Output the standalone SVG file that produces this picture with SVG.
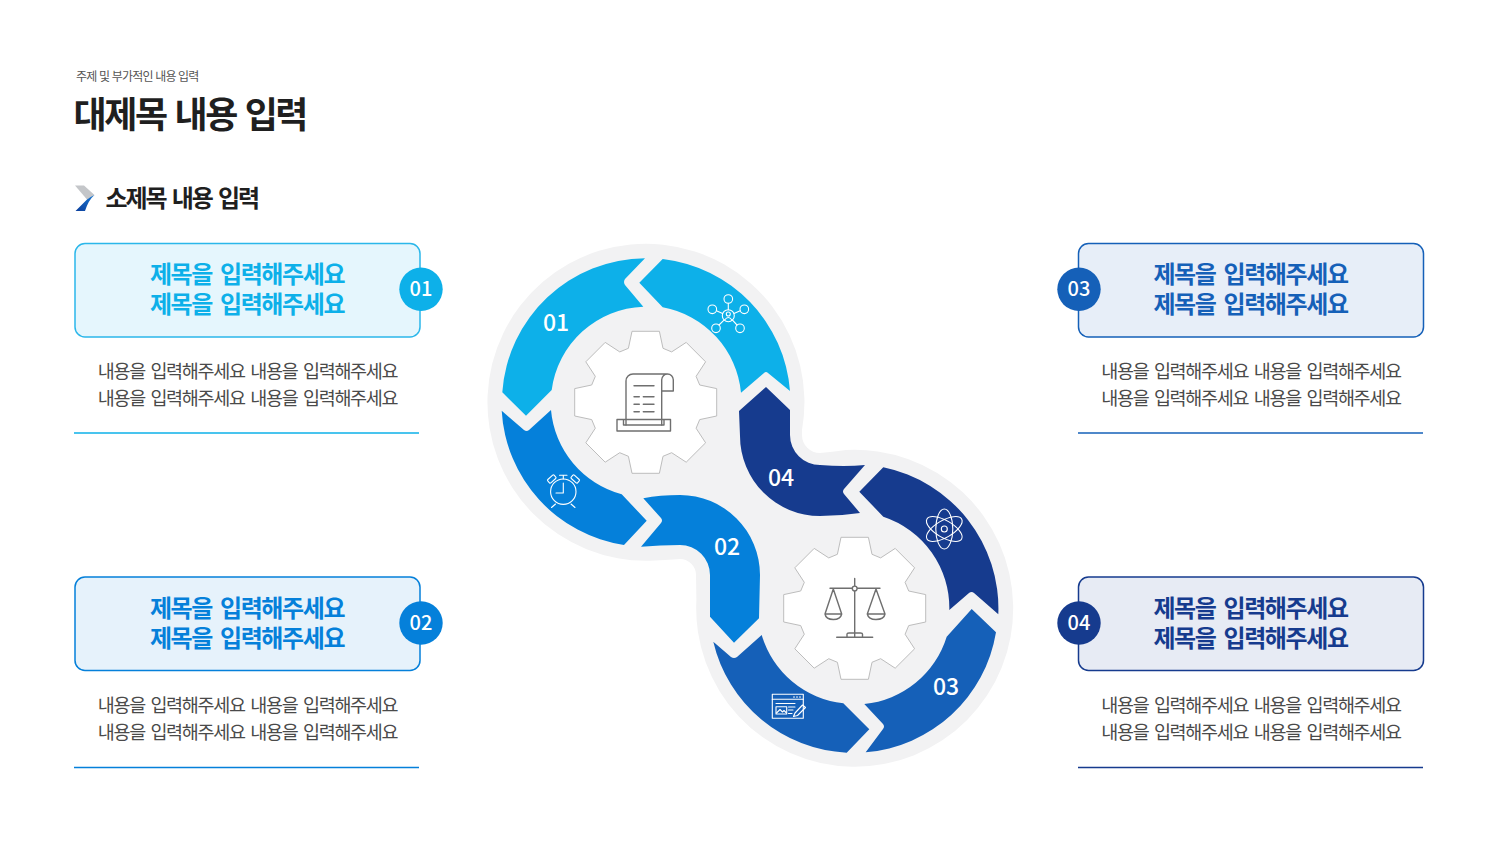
<svg xmlns="http://www.w3.org/2000/svg" width="1500" height="844" viewBox="0 0 1500 844">
<style>
text{font-family:"Noto Sans CJK KR","Noto Sans",sans-serif}
.title{font-size:36px;font-weight:700;fill:#1f1f1f;letter-spacing:-2.4px;word-spacing:3px}
.sub{font-size:12px;fill:#555;letter-spacing:-.8px;word-spacing:.6px}
.sect{font-size:24px;font-weight:700;fill:#1f1f1f;letter-spacing:-2.1px;word-spacing:3px}
.head{font-size:24px;font-weight:700;text-anchor:middle;letter-spacing:-1.4px;word-spacing:4px}
.body{font-size:18.5px;font-weight:400;fill:#4a4a4a;text-anchor:middle;letter-spacing:-1.3px;word-spacing:2.7px}
.num{font-size:20px;font-weight:500;fill:#fff;text-anchor:middle}
.rnum{font-size:23px;font-weight:500;fill:#fff;text-anchor:middle}
.gear{fill:#fff;stroke:#bdbdbd;stroke-width:1;stroke-linejoin:round}
.dk{fill:none;stroke:#6f6f6f;stroke-width:1.4;stroke-linecap:round;stroke-linejoin:round}
.wh{fill:none;stroke:#fff;stroke-width:1.1;stroke-linecap:round;stroke-linejoin:round}
.c1{fill:#0db0e9}.c2{fill:#0580da}.c3{fill:#1560b8}.c4{fill:#163b8e}
</style>
<defs>
<path id="gearShape" class="gear" d="M-17.3-54L-13.7-71H13.7L17.3-54L25.95-50.4L40.5-59.9L59.9-40.5L50.4-25.95L54-17.3L71-13.7V13.7L54 17.3L50.4 25.95L59.9 40.5L40.5 59.9L25.95 50.4L17.3 54L13.7 71H-13.7L-17.3 54L-25.95 50.4L-40.5 59.9L-59.9 40.5L-50.4 25.95L-54 17.3L-71 13.7V-13.7L-54-17.3L-50.4-25.95L-59.9-40.5L-40.5-59.9L-25.95-50.4Z"/>
<linearGradient id="chevBlue" x1="0" y1="1" x2="1" y2="0"><stop offset="0" stop-color="#0b3f9c"/><stop offset="1" stop-color="#1a78d2"/></linearGradient>
</defs>

<g id="header">
<text class="sub" x="76" y="81">주제 및 부가적인 내용 입력</text>
<text class="title" x="73.5" y="128">대제목 내용 입력</text>
</g>
<g id="section-title">
<path d="M75 185.5H84L94.5 195L87 199.5Z" fill="#c4c6c9"/>
<path d="M94.5 195Q88.5 200 85 211H75.5L87 199.5Q90 197 94.5 195Z" fill="url(#chevBlue)"/>
<text class="sect" x="105.5" y="207">소제목 내용 입력</text>
</g>

<g id="card-01">
<rect x="75" y="243.5" width="345" height="93.5" rx="10" fill="#e5f6fd" stroke="#2bb7ea" stroke-width="1.5"/>
<text class="head c1" x="247" y="283">제목을 입력해주세요</text>
<text class="head c1" x="247" y="313">제목을 입력해주세요</text>
<circle class="c1" cx="421" cy="289.3" r="21.7"/>
<text class="num" x="421" y="296">01</text>
<text class="body" x="247.5" y="378">내용을 입력해주세요 내용을 입력해주세요</text>
<text class="body" x="247.5" y="405">내용을 입력해주세요 내용을 입력해주세요</text>
<path d="M74 433H419" stroke="#0db0e9" stroke-width="1.5"/>
</g>
<g id="card-02">
<rect x="75" y="577" width="345" height="93.5" rx="10" fill="#e6f2fb" stroke="#0580da" stroke-width="1.5"/>
<text class="head c2" x="247" y="616.5">제목을 입력해주세요</text>
<text class="head c2" x="247" y="646.5">제목을 입력해주세요</text>
<circle class="c2" cx="421" cy="623" r="21.7"/>
<text class="num" x="421" y="630">02</text>
<text class="body" x="247.5" y="712">내용을 입력해주세요 내용을 입력해주세요</text>
<text class="body" x="247.5" y="739">내용을 입력해주세요 내용을 입력해주세요</text>
<path d="M74 767.5H419" stroke="#0580da" stroke-width="1.5"/>
</g>
<g id="card-03">
<rect x="1078.5" y="243.5" width="345" height="93.5" rx="10" fill="#e7eef8" stroke="#1560b8" stroke-width="1.5"/>
<text class="head c3" x="1250.5" y="283">제목을 입력해주세요</text>
<text class="head c3" x="1250.5" y="313">제목을 입력해주세요</text>
<circle class="c3" cx="1079" cy="289.3" r="21.7"/>
<text class="num" x="1079" y="296">03</text>
<text class="body" x="1251" y="378">내용을 입력해주세요 내용을 입력해주세요</text>
<text class="body" x="1251" y="405">내용을 입력해주세요 내용을 입력해주세요</text>
<path d="M1078 433H1423" stroke="#1560b8" stroke-width="1.5"/>
</g>
<g id="card-04">
<rect x="1078.5" y="577" width="345" height="93.5" rx="10" fill="#e7ebf4" stroke="#163b8e" stroke-width="1.5"/>
<text class="head c4" x="1250.5" y="616.5">제목을 입력해주세요</text>
<text class="head c4" x="1250.5" y="646.5">제목을 입력해주세요</text>
<circle class="c4" cx="1079" cy="623" r="21.7"/>
<text class="num" x="1079" y="630">04</text>
<text class="body" x="1251" y="712">내용을 입력해주세요 내용을 입력해주세요</text>
<text class="body" x="1251" y="739">내용을 입력해주세요 내용을 입력해주세요</text>
<path d="M1078 767.5H1423" stroke="#163b8e" stroke-width="1.5"/>
</g>

<g id="backdrop">
<path fill="#f2f2f3" d="M802 430V435A18 18 0 0 0 820 453Q832 452 846 450A158.5 158.5 0 1 1 696.4 600L696 575A16 16 0 0 0 680 559Q665 560 650 560.7A158.5 158.5 0 1 1 802 430Z"/>
</g>

<g id="ring-01">
<path class="c1" d="M645 258.3L625 279Q623 282 625 285L643.3 306.7A96 96 0 0 0 551.7 390L526 415.7L502.3 392.3A144 144 0 0 1 645 258.3Z"/>
<path class="c1" d="M662.7 259L639.3 282.7L662.7 307.3A96 96 0 0 1 741 392.7L764 373Q766 371 768 373L790 391A144 144 0 0 0 662.7 259Z"/>
<text class="rnum" x="556" y="331">01</text>
<g id="icon-network" class="wh">
<circle cx="728.3" cy="315.7" r="6"/><circle cx="728.3" cy="314" r="2"/><path d="M724.6 320Q728.3 315 732 320"/>
<circle cx="728.3" cy="299" r="4.3"/><circle cx="744.3" cy="309.3" r="4.3"/><circle cx="740" cy="328.3" r="4.3"/><circle cx="716" cy="328.3" r="4.3"/><circle cx="712.3" cy="309.3" r="4.3"/>
<path d="M728.3 303.3V309.7M740.2 310.8L734 313.5M737 325L732.5 320.2M719 325L724 320.2M716.4 310.8L722.6 313.5"/>
</g>
</g>
<g id="ring-02">
<path class="c2" d="M501.7 410.7L524 430Q526.7 432 529 430L551 410A96 96 0 0 0 621.7 494.3L646.7 520.7L624 545A144 144 0 0 1 501.7 410.7Z"/>
<path class="c2" d="M643.3 498.3L661 518Q663 520.5 661 523L641 546.7Q660 545 680 545A30 30 0 0 1 710 575V616.7L734 642.7L759 618.3L760 575A80 80 0 0 0 680 495Q660 495 643.3 498.3Z"/>
<text class="rnum" x="727" y="555">02</text>
<g id="icon-alarm" class="wh">
<circle cx="563.3" cy="491.7" r="12.7"/>
<path d="M563.3 483V493H556M563.3 479V475.7M559.5 475.2H567M555.5 504L551.5 507.5M571 504L575 507.5"/>
<rect x="547.5" y="476.8" width="8.5" height="4.5" rx="1" transform="rotate(-42 551.7 479)"/>
<rect x="571" y="476.8" width="8.5" height="4.5" rx="1" transform="rotate(42 575.3 479)"/>
</g>
</g>
<g id="ring-03">
<path class="c3" d="M713.3 641.7L731 657Q734 659 737 657L761.7 635A96 96 0 0 0 843.3 703.3L869.3 729.3L846.7 752.7A144 144 0 0 1 713.3 641.7Z"/>
<path class="c3" d="M971.7 609L996 632.3A144 144 0 0 1 865.7 752.3L883 729Q885 726.7 883 724L864.3 704A96 96 0 0 0 946.7 636.7Z"/>
<text class="rnum" x="946" y="695">03</text>
<g id="icon-editor" class="wh">
<rect x="772.3" y="694.3" width="31" height="24"/>
<path d="M772.3 699.3H803.3M793.5 697H794.5M796.5 697H797.5M799.5 697H800.5M776 703.5H795M788.5 707H795M788.5 710H793M788.5 713.5H792M793.5 716.5L795 713L802.5 705L805.5 707.5L797.5 715.5Z"/>
<rect x="776" y="706.7" width="10.7" height="7.3"/><path d="M776.5 713L780 709.5L782.5 712L784 710.5L786 712.5"/>
</g>
</g>
<g id="ring-04">
<path class="c4" d="M766 387L790 410L790 435A30 30 0 0 0 820 465Q845 467 865 465L844 489Q842 491.7 844 494L860 513Q840 516 820 516A80 80 0 0 1 740 436L739 411Z"/>
<path class="c4" d="M883.3 467.3L859.3 491.7L883.3 516.7A96 96 0 0 1 949.3 610L969 593Q971.7 591 974 593L998.3 614.3A144 144 0 0 0 883.3 467.3Z"/>
<text class="rnum" x="781" y="486">04</text>
<g id="icon-atom" class="wh" stroke-width="1.2">
<ellipse cx="944.3" cy="529" rx="8.5" ry="20"/>
<ellipse cx="944.3" cy="529" rx="8.5" ry="20" transform="rotate(60 944.3 529)"/>
<ellipse cx="944.3" cy="529" rx="8.5" ry="20" transform="rotate(-60 944.3 529)"/>
<circle cx="944.3" cy="529" r="3"/>
</g>
</g>

<g id="gear-top">
<use href="#gearShape" x="645.7" y="402.3"/>
<g id="icon-scroll" class="dk">
<path d="M626 425V381A7 7 0 0 1 633 374H667.5A5.8 5.8 0 0 1 673.3 379.8V391H661.7V379.8A5.8 5.8 0 0 1 667.5 374M661.7 391V425"/>
<path d="M617 419.5H670.5V431H617ZM623.5 419.5V425H664V419.5M634 385.7H654M634 396.7H639.3M643.3 396.7H654M634 404.3H639.3M643.3 404.3H654M634 411.7H639.3M643.3 411.7H654"/>
</g>
</g>
<g id="gear-bottom">
<use href="#gearShape" x="854.7" y="608.3"/>
<g id="icon-scales" class="dk">
<path d="M854.7 578.5V637M830 588.3H880M836.7 637.3H872.7M847 637V634Q847 633 849 633H860.5Q862.5 633 862.5 634V637M833.3 589L825 614M833.3 589L841.7 614M825 614H841.7Q840.5 619.5 833.3 619.5Q826 619.5 825 614ZM876 589L867.3 614M876 589L885 614M867.3 614H885Q884 619.5 876 619.5Q868.5 619.5 867.3 614Z"/>
<circle cx="854.7" cy="588.5" r="2.4" fill="#fff"/>
</g>
</g>
</svg>
